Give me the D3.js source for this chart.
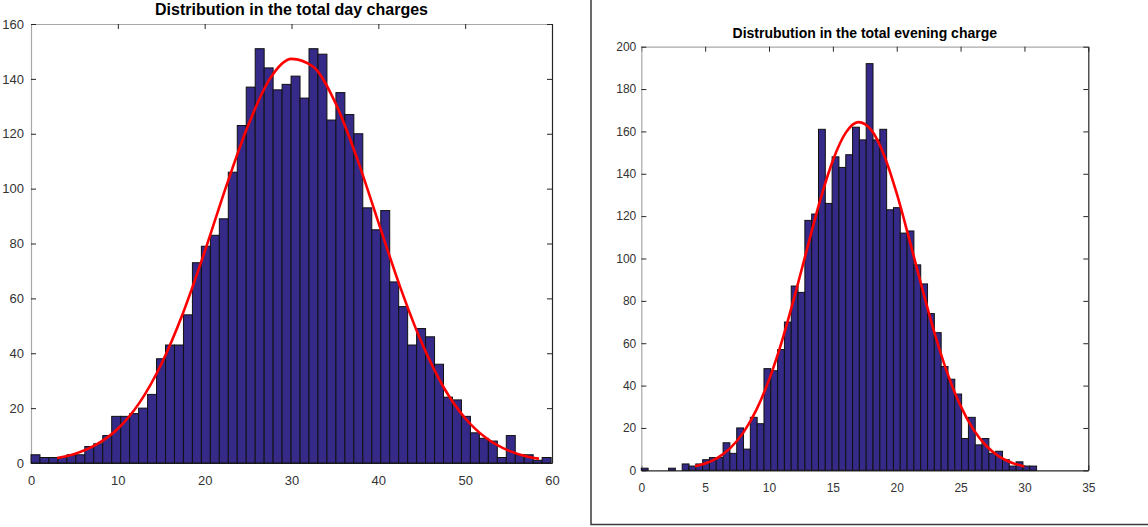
<!doctype html>
<html>
<head>
<meta charset="UTF-8">
<title>charges histograms</title>
<script src="https://d3js.org/d3.v7.min.js"></script>
<style>
    body{ margin:0; background:#fff; }
    svg{ display:block; }
</style>
</head>
<body>
<div id="chart"></div>
<script>
// ---- data ----
// total day charge, 58 bins from 0 to ~59.9
var dayCounts = [3, 2, 2, 2, 3, 3, 6, 7, 10, 17, 17, 18, 20, 25, 38, 43, 43, 54, 73, 79,
                 83, 89, 106, 123, 137, 151, 144, 136, 138, 141, 133, 151, 149, 125, 135, 127, 120, 93, 85, 92,
                 66, 57, 43, 49, 46, 36, 24, 23, 17, 11, 9, 8, 2, 10, 3, 3, 1, 2];
var dayRange = [0, 59.9];
var dayFitX = [3, 5, 7.5, 10, 12.5, 15, 17.5, 20, 22.5, 25, 27.5, 30, 32.5, 35, 37.5, 40, 42.5, 45, 47.5, 50, 52.5, 55, 57.5, 58.5];
var dayFitY = [1.8, 3.3, 6.7, 12.5, 22, 36, 54.6, 77, 101, 123, 140, 147.3, 144.4, 131.6, 111.5, 87.8, 64.3, 43.8, 27.7, 16.3, 8.9, 4.5, 2.1, 1.6];
var dayXTicks = [0, 10, 20, 30, 40, 50, 60];
var dayYTicks = [0, 20, 40, 60, 80, 100, 120, 140, 160];

// total evening charge, 58 bins from 0 to ~30.95
var eveCounts = [1, 0, 0, 0, 1, 0, 3, 2, 3, 5, 6, 6, 13, 8, 20, 10, 25, 22, 48, 47,
                 57, 70, 87, 84, 118, 121, 161, 126, 148, 143, 149, 162, 156, 192, 156, 161, 123, 124, 112, 113,
                 97, 88, 74, 65, 49, 43, 36, 15, 25, 12, 15, 8, 9, 5, 2, 4, 2, 2];
var eveRange = [0, 30.95];
var eveFitX = [4.2, 5, 6, 7, 8, 9, 10, 11, 12, 13, 14, 15, 16, 17, 18, 19, 20, 21, 22, 23, 24, 25, 26, 27, 28, 29, 30];
var eveFitY = [1.9, 3.2, 6, 10.7, 17.9, 28.4, 42.7, 60.8, 82.1, 105, 127.4, 146.3, 159.3, 164.4, 160.7, 148.9, 130.7,
               108.7, 85.7, 64, 45.3, 30.4, 19.3, 11.6, 6.6, 3.6, 1.8];
var eveXTicks = [0, 5, 10, 15, 20, 25, 30, 35];
var eveYTicks = [0, 20, 40, 60, 80, 100, 120, 140, 160, 180, 200];

var W = 1148, H = 527;
var svg = d3.select("#chart").append("svg").attr("width", W).attr("height", H);
svg.append("rect").attr("width", W).attr("height", H).attr("fill", "#fff");

// frame around the second figure
svg.append("path")
   .attr("d", "M591,0V524.5H1148")
   .attr("fill", "none").attr("stroke", "#3a3a3a").attr("stroke-width", 1.5);

drawPanel({
    counts: dayCounts, range: dayRange, fitX: dayFitX, fitY: dayFitY,
    xTicks: dayXTicks, yTicks: dayYTicks, xMax: 60, yMax: 160,
    left: 31, right: 552, top: 24, bottom: 463,
    title: "Distribution in the total day charges", titleY: 15, titleSize: 16,
    tickSize: 13, xPad: 12.8, yPad: 7
});

drawPanel({
    counts: eveCounts, range: eveRange, fitX: eveFitX, fitY: eveFitY,
    xTicks: eveXTicks, yTicks: eveYTicks, xMax: 35, yMax: 200,
    left: 641.3, right: 1088.3, top: 46.7, bottom: 470.3,
    title: "Distrubution in the total evening charge", titleY: 37.5, titleSize: 14,
    tickSize: 12, xPad: 12.7, yPad: 5
});

function drawPanel(o){
    var x = d3.scaleLinear().domain([0, o.xMax]).range([o.left, o.right]);
    var y = d3.scaleLinear().domain([0, o.yMax]).range([o.bottom, o.top]);
    var g = svg.append("g");
    var font = "'Liberation Sans', Arial, Helvetica, sans-serif";

    // axes (inward ticks on all four sides)
    var ax = [
        {a: d3.axisBottom(x).tickValues(o.xTicks).tickSize(-5).tickPadding(o.xPad), t: "translate(0," + o.bottom + ")", dom: "#262626", lab: true},
        {a: d3.axisTop(x).tickValues(o.xTicks).tickSize(-5), t: "translate(0," + o.top + ")", dom: "#a8a8a8", lab: false},
        {a: d3.axisLeft(y).tickValues(o.yTicks).tickSize(-5).tickPadding(o.yPad), t: "translate(" + o.left + ",0)", dom: "#a8a8a8", lab: true},
        {a: d3.axisRight(y).tickValues(o.yTicks).tickSize(-5), t: "translate(" + o.right + ",0)", dom: "#262626", lab: false}
    ];
    ax.forEach(function(d){
        var s = g.append("g").attr("transform", d.t).call(d.a.tickSizeOuter(0));
        s.select(".domain").attr("stroke", d.dom).attr("stroke-width", 1.2);
        s.selectAll(".tick line").attr("stroke", "#262626");
        s.selectAll("text")
         .attr("fill", "#333")
         .style("font-family", font)
         .style("font-size", o.tickSize + "px")
         .style("display", d.lab ? null : "none");
    });

    // bars
    var n = o.counts.length;
    var bw = (o.range[1] - o.range[0]) / n;
    g.append("g").selectAll("rect")
     .data(o.counts)
     .enter().append("rect")
     .attr("x", function(d, i){ return x(o.range[0] + i * bw); })
     .attr("width", function(d, i){ return x(o.range[0] + (i + 1) * bw) - x(o.range[0] + i * bw); })
     .attr("y", function(d){ return y(d); })
     .attr("height", function(d){ return y(0) - y(d); })
     .attr("fill", "#352a87")
     .attr("stroke", "#111")
     .attr("stroke-width", 1);

    // normal fit
    var pts = o.fitX.map(function(v, i){ return [v, o.fitY[i]]; });
    g.append("path")
     .datum(pts)
     .attr("fill", "none")
     .attr("stroke", "#ff0000")
     .attr("stroke-width", 2.6)
     .attr("stroke-linejoin", "round")
     .attr("d", d3.line().x(function(d){ return x(d[0]); }).y(function(d){ return y(d[1]); }).curve(d3.curveMonotoneX));

    // title
    g.append("text")
     .attr("x", (o.left + o.right) / 2)
     .attr("y", o.titleY)
     .attr("text-anchor", "middle")
     .style("font-family", font)
     .style("font-weight", "bold")
     .style("font-size", o.titleSize + "px")
     .attr("fill", "#000")
     .text(o.title);
}
</script>
</body>
</html>
